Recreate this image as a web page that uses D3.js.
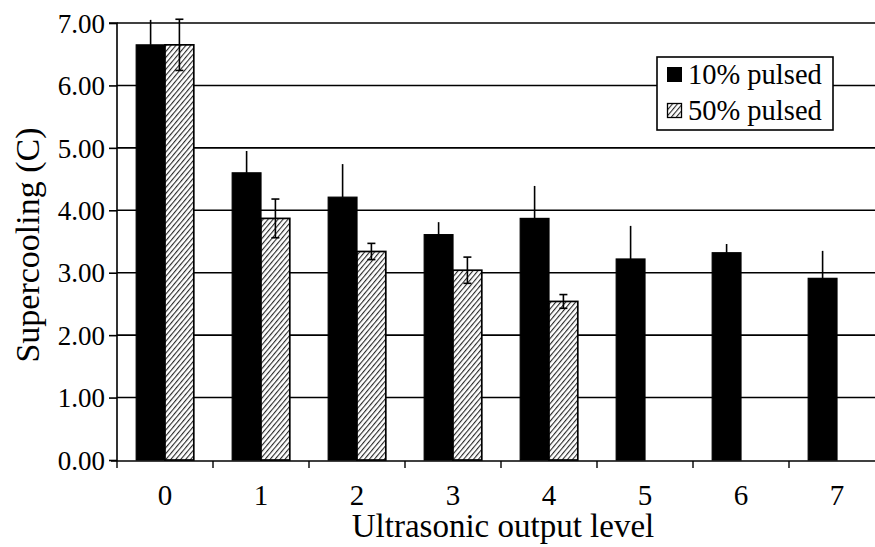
<!DOCTYPE html>
<html><head><meta charset="utf-8">
<script src="https://cdn.jsdelivr.net/npm/d3@7"></script>
<style>html,body{margin:0;padding:0;background:#fff;overflow:hidden}svg{display:block}
svg text{font-family:"Liberation Serif","Times New Roman",serif !important;fill:#000}</style>
</head><body>
<svg id="c" width="875" height="547"></svg>
<script>
const levels = ["0","1","2","3","4","5","6","7"];
const seriesNames = ["10% pulsed","50% pulsed"];
const pulsed10 = [6.65, 4.60, 4.21, 3.61, 3.87, 3.22, 3.32, 2.91];
const pulsed10Err = [0.40, 0.35, 0.53, 0.20, 0.52, 0.53, 0.14, 0.44];
const pulsed50 = [6.65, 3.87, 3.34, 3.04, 2.54, null, null, null];
const pulsed50Err = [0.41, 0.31, 0.13, 0.21, 0.11, null, null, null];
const yTicks = [0,1,2,3,4,5,6,7];

(function(){
const svg = d3.select("#c");
const mLeft = 117, mTop = 23, mBottom = 460, bandW = 96;
const x = d3.scaleBand().domain(levels).range([mLeft, mLeft + bandW*levels.length]).padding(0);
const x1 = d3.scaleBand().domain(seriesNames).range([x.bandwidth()*0.2, x.bandwidth()*0.8]).padding(0);
const y = d3.scaleLinear().domain([0,7]).range([mBottom, mTop]);

const defs = svg.append("defs");
const pw = 3.8;
const pat = defs.append("pattern").attr("id","hatch").attr("patternUnits","userSpaceOnUse")
  .attr("width",pw).attr("height",pw).attr("patternTransform","rotate(40)");
pat.append("rect").attr("width",pw).attr("height",pw).attr("fill","#fff");
pat.append("line").attr("x1",0.6).attr("y1",-1).attr("x2",0.6).attr("y2",pw+1).attr("stroke","#111").attr("stroke-width",1.0);

svg.append("g").selectAll("line").data(yTicks.filter(d=>d>0)).join("line")
  .attr("x1", mLeft).attr("x2", 875).attr("y1", d=>y(d)).attr("y2", d=>y(d))
  .attr("stroke","#000").attr("stroke-width",1.6);

const g = svg.append("g");
levels.forEach((lv,i)=>{
  const cx = x(lv);
  g.append("rect").attr("x", cx + x1(seriesNames[0])).attr("y", y(pulsed10[i]))
    .attr("width", x1.bandwidth()).attr("height", y(0)-y(pulsed10[i]))
    .attr("fill","#000").attr("stroke","#000").attr("stroke-width",1.2);
  if (pulsed50[i] != null) {
    g.append("rect").attr("x", cx + x1(seriesNames[1])).attr("y", y(pulsed50[i]))
      .attr("width", x1.bandwidth()).attr("height", y(0)-y(pulsed50[i]))
      .attr("fill","url(#hatch)").attr("stroke","#000").attr("stroke-width",1.7);
  }
});
levels.forEach((lv,i)=>{
  const cx = x(lv);
  const ex = cx + x1(seriesNames[0]) + x1.bandwidth()/2;
  g.append("line").attr("x1",ex).attr("x2",ex).attr("y1",y(pulsed10[i])).attr("y2",y(pulsed10[i]+pulsed10Err[i]))
    .attr("stroke","#000").attr("stroke-width",1.6);
  if (pulsed50[i] != null) {
    const hx = cx + x1(seriesNames[1]) + x1.bandwidth()/2;
    const hi = y(pulsed50[i]+pulsed50Err[i]), lo = y(pulsed50[i]-pulsed50Err[i]);
    g.append("line").attr("x1",hx).attr("x2",hx).attr("y1",hi).attr("y2",lo).attr("stroke","#000").attr("stroke-width",1.6);
    [hi,lo].forEach(v=>g.append("line").attr("x1",hx-4).attr("x2",hx+4).attr("y1",v).attr("y2",v).attr("stroke","#000").attr("stroke-width",1.6));
  }
});

const yAxis = d3.axisLeft(y).tickValues(yTicks).tickFormat(d3.format(".2f")).tickSize(8).tickPadding(4);
const ya = svg.append("g").attr("transform",`translate(${mLeft},0)`).call(yAxis);
ya.select(".domain").attr("stroke","#000").attr("stroke-width",1.6).attr("d",`M-8,${mTop}H0V${mBottom+1}`);
ya.selectAll(".tick line").attr("stroke","#000").attr("stroke-width",1.6);
ya.selectAll("text").attr("font-size",27).attr("dy","0.34em");

const xAxis = d3.axisBottom(x).tickSize(0).tickPadding(23);
const xa = svg.append("g").attr("transform",`translate(0,${mBottom+1})`).call(xAxis);
xa.select(".domain").attr("stroke","#000").attr("stroke-width",1.6).attr("d",`M${mLeft-6},0H875`);
xa.selectAll("text").attr("font-size",29);
svg.append("g").selectAll("line").data(levels).join("line")
  .attr("x1", d=>x(d)).attr("x2", d=>x(d)).attr("y1", mBottom+1).attr("y2", mBottom+8)
  .attr("stroke","#000").attr("stroke-width",1.4);

svg.append("text").attr("x", 503).attr("y", 537).attr("text-anchor","middle")
  .attr("font-size",33).text("Ultrasonic output level");
svg.append("text").attr("transform","translate(39,245) rotate(-90)").attr("text-anchor","middle")
  .attr("font-size",34).text("Supercooling (C)");

const lg = svg.append("g");
lg.append("rect").attr("x",657).attr("y",57).attr("width",176).attr("height",73)
  .attr("fill","#fff").attr("stroke","#000").attr("stroke-width",1.6);
lg.append("rect").attr("x",667).attr("y",67).attr("width",15).attr("height",15).attr("fill","#000");
lg.append("rect").attr("x",667.5).attr("y",103.5).attr("width",14).attr("height",14).attr("fill","url(#hatch)").attr("stroke","#000").attr("stroke-width",1.3);
lg.append("text").attr("x",688).attr("y",84).attr("font-size",28.5).text(seriesNames[0]);
lg.append("text").attr("x",688).attr("y",120).attr("font-size",28.5).text(seriesNames[1]);
})();
</script>
</body></html>
